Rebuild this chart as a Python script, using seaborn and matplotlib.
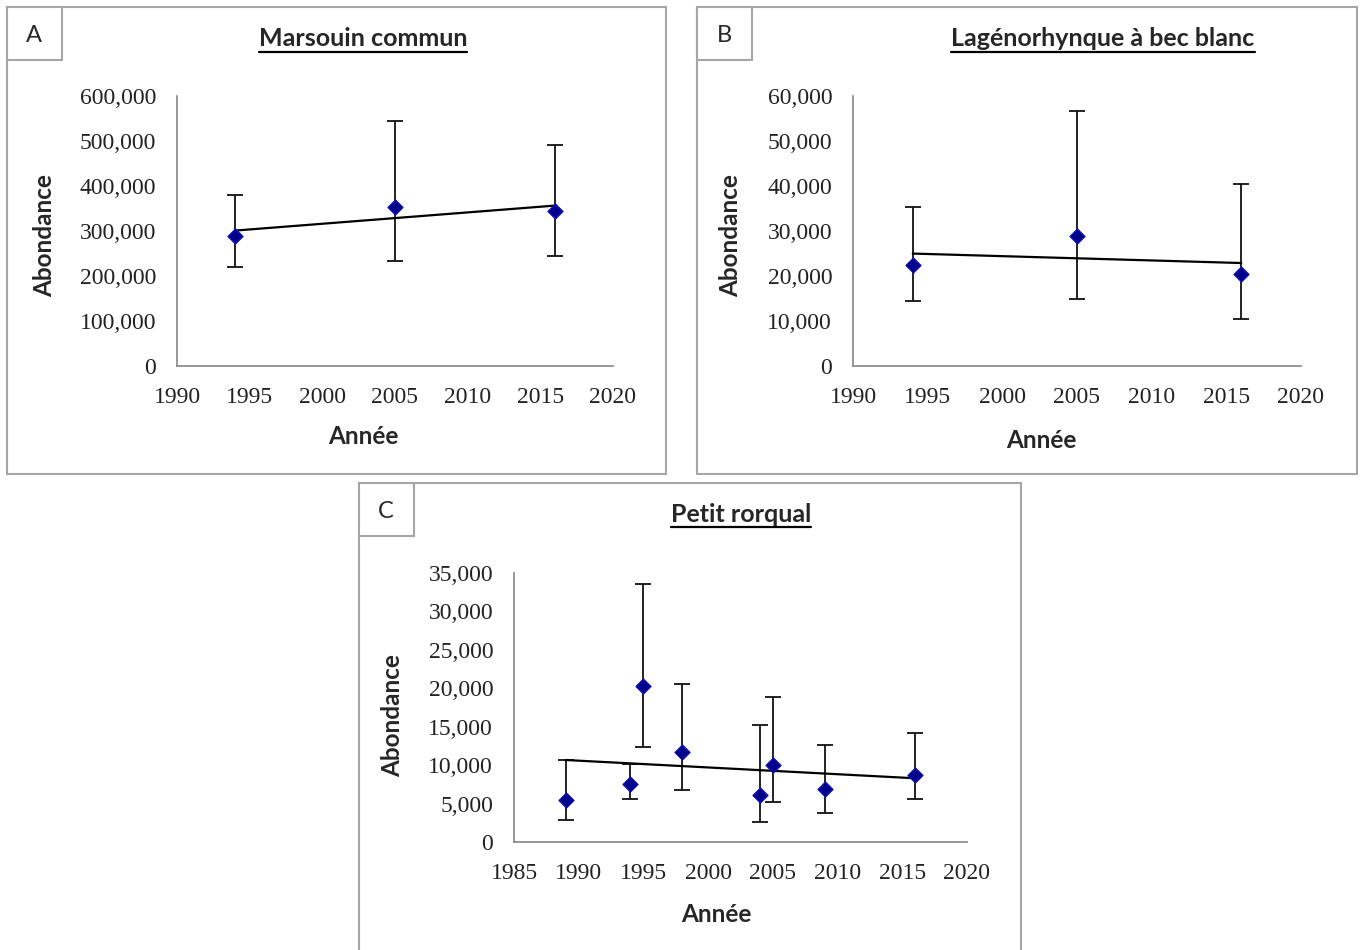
import numpy as np
import pandas as pd
import matplotlib
matplotlib.use('Agg')
import matplotlib.pyplot as plt
import matplotlib.ticker as mticker
from matplotlib.patches import Rectangle
from matplotlib.lines import Line2D
import seaborn as sns

# Panel A - Marsouin commun
years_a = [1994, 2005, 2016]
abund_a = [288500, 353600, 344000]
low_a = [220500, 233000, 243400]
high_a = [380000, 545000, 490500]

# Panel B - Lagénorhynque à bec blanc
years_b = [1994, 2005, 2016]
abund_b = [22500, 28900, 20400]
low_b = [14500, 14900, 10400]
high_b = [35300, 56700, 40400]

# Panel C - Petit rorqual
years_c = [1989, 1994, 1995, 1998, 2004, 2005, 2009, 2016]
abund_c = [5430, 7520, 20300, 11650, 6170, 10000, 6870, 8780]
low_c = [2830, 5650, 12300, 6780, 2600, 5200, 3830, 5650]
high_c = [10650, 10100, 33560, 20500, 15260, 18900, 12600, 14130]

sns.set_style('white')
plt.rcParams['font.family'] = ['Liberation Serif', 'DejaVu Serif']

W, H = 1362, 950
fig = plt.figure(figsize=(W / 100, H / 100), dpi=100)

SANS = ['Lato', 'DejaVu Sans']
GRAY = '#a6a6a6'
AXGRAY = '#868686'
MARK = '#00008b'


def fx(x):
    return x / W


def fy(y):
    return 1 - y / H


def frame(x0, y0, x1, y1, letter):
    fig.patches.append(Rectangle((fx(x0), fy(y1)), fx(x1 - x0), (y1 - y0) / H,
                                 transform=fig.transFigure, fill=False,
                                 edgecolor=GRAY, linewidth=1.5))
    fig.patches.append(Rectangle((fx(x0), fy(y0 + 53)), fx(55), 53 / H,
                                 transform=fig.transFigure, facecolor='white',
                                 edgecolor=GRAY, linewidth=1.5))
    fig.text(fx(x0 + 27), fy(y0 + 29), letter, family=SANS, fontsize=17,
             ha='center', va='center')


def panel(rect, years, vals, low, high, xlim, ylim, ystep, title, tpos, xlpos, ylpos):
    ax = fig.add_axes([fx(rect[0]), fy(rect[3]), fx(rect[2] - rect[0]),
                       (rect[3] - rect[1]) / H])
    df = pd.DataFrame({'year': years, 'abund': vals})
    err = [np.array(vals) - np.array(low), np.array(high) - np.array(vals)]
    ax.errorbar(years, vals, yerr=err, fmt='none', ecolor='#111111',
                elinewidth=1.3, capsize=6, capthick=1.3, zorder=2)
    sns.regplot(data=df, x='year', y='abund', ax=ax, scatter=False, ci=None,
                truncate=True, line_kws={'color': 'black', 'linewidth': 1.6, 'zorder': 3})
    sns.scatterplot(data=df, x='year', y='abund', ax=ax, marker='D', s=60,
                    color=MARK, edgecolor='#1010c0', linewidth=0.8, zorder=4)
    ax.set_xlim(*xlim)
    ax.set_ylim(*ylim)
    ax.set_xticks(np.arange(xlim[0], xlim[1] + 1, 5))
    ax.set_yticks(np.arange(ylim[0], ylim[1] + 1, ystep))
    ax.yaxis.set_major_formatter(mticker.FuncFormatter(lambda v, _: f'{int(v):,}'))
    ax.set_xlabel('')
    ax.set_ylabel('')
    sns.despine(ax=ax)
    for s in ['left', 'bottom']:
        ax.spines[s].set_color(AXGRAY)
        ax.spines[s].set_linewidth(1.2)
    ax.tick_params(axis='both', direction='out', length=6, width=1.2,
                   color=AXGRAY, labelsize=17, labelcolor='#222222')
    ax.tick_params(axis='y', pad=9)
    ax.tick_params(axis='x', pad=9)

    t = fig.text(fx(tpos[0]), fy(tpos[1]), title, family=SANS, fontsize=18,
                 fontweight='bold', ha='center', va='center')
    fig.canvas.draw()
    bb = t.get_window_extent()
    fig.lines.append(Line2D([bb.x0 / W, bb.x1 / W], [(bb.y0 - 1) / H] * 2,
                            transform=fig.transFigure, color='black', linewidth=1.6))
    fig.text(fx(xlpos[0]), fy(xlpos[1]), 'Année', family=SANS, fontsize=17.5,
             fontweight='bold', ha='center', va='center')
    fig.text(fx(ylpos[0]), fy(ylpos[1]), 'Abondance', family=SANS, fontsize=17.5,
             fontweight='bold', ha='center', va='center', rotation=90)
    return ax


frame(7, 7, 666, 474, 'A')
frame(697, 7, 1357, 474, 'B')
frame(359, 483, 1021, 952, 'C')

panel((177, 96, 613, 366), years_a, abund_a, low_a, high_a, (1990, 2020),
      (0, 600000), 100000, 'Marsouin commun', (363, 39), (363, 437), (45, 236))
panel((853, 96, 1301, 366), years_b, abund_b, low_b, high_b, (1990, 2020),
      (0, 60000), 10000, 'Lagénorhynque à bec blanc', (1103, 39), (1041, 440), (731, 236))
panel((514, 573, 967, 842), years_c, abund_c, low_c, high_c, (1985, 2020),
      (0, 35000), 5000, 'Petit rorqual', (741, 514), (716, 914), (393, 716))

fig.savefig('out.png', dpi=100)
